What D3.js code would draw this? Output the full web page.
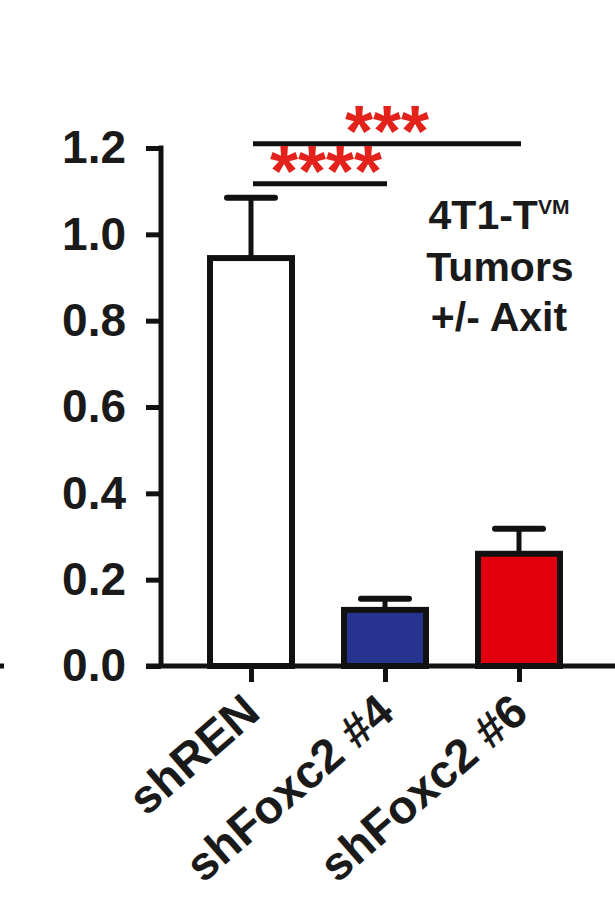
<!DOCTYPE html>
<html>
<head>
<meta charset="utf-8">
<script src="https://cdn.jsdelivr.net/npm/d3@7"></script>
<style>
  html, body { margin: 0; padding: 0; background: #fff; }
  svg text { font-family: "Liberation Sans", Arial, sans-serif; font-weight: bold; }
</style>
</head>
<body>
<div id="chart"></div>
<script>
// values
var categories = ["shREN", "shFoxc2 #4", "shFoxc2 #6"];
var means = [0.945, 0.13, 0.26];
var errors = [0.14, 0.026, 0.058];
var barColors = ["#ffffff", "#26348f", "#e2000f"];
var yTicks = [0, 0.2, 0.4, 0.6, 0.8, 1.0, 1.2];
var sigFrom = [0, 0];
var sigTo = [2, 1];
var sigLevel = [1.21, 1.117];
var sigLabel = ["***", "****"];
var noteLines = ["4T1-T", "Tumors", "+/- Axit"];

var width = 615,
    height = 899;

var svg = d3.select("#chart").append("svg")
    .attr("width", width)
    .attr("height", height);

var y = d3.scaleLinear()
    .domain([0, 1.2])
    .range([666, 148]);

var x = d3.scalePoint()
    .domain(categories)
    .range([251, 519]);

var barWidth = 82,
    capWidth = 48,
    axisX = 161;

var data = categories.map(function(c, i) {
  return {key: c, mean: means[i], err: errors[i], color: barColors[i]};
});

// y axis
var yAxis = d3.axisLeft(y)
  .tickValues(yTicks)
  .tickFormat(d3.format(".1f"))
  .tickSize(15)
  .tickSizeOuter(0)
  .tickPadding(20);

var gy = svg.append("g")
    .attr("transform", "translate(" + axisX + ",0)")
    .call(yAxis);

gy.select(".domain").remove();
gy.selectAll(".tick line").attr("stroke", "#111").attr("stroke-width", 5);
gy.selectAll(".tick text")
  .attr("fill", "#1a1a1a")
  .style("font-size", "46px");

gy.append("line")
  .attr("x1", 0).attr("x2", 0)
  .attr("y1", y(1.2) - 2.5).attr("y2", y(0))
  .attr("stroke", "#111")
  .attr("stroke-width", 5);

// bars
var bars = svg.selectAll("g.bar")
  .data(data)
  .enter().append("g")
  .attr("class", "bar");

bars.append("line")
  .attr("x1", function(d) { return x(d.key); })
  .attr("x2", function(d) { return x(d.key); })
  .attr("y1", function(d) { return y(d.mean); })
  .attr("y2", function(d) { return y(d.mean + d.err); })
  .attr("stroke", "#111")
  .attr("stroke-width", 5);

bars.append("line")
  .attr("x1", function(d) { return x(d.key) - capWidth / 2; })
  .attr("x2", function(d) { return x(d.key) + capWidth / 2; })
  .attr("y1", function(d) { return y(d.mean + d.err); })
  .attr("y2", function(d) { return y(d.mean + d.err); })
  .attr("stroke", "#111")
  .attr("stroke-width", 6)
  .attr("stroke-linecap", "round");

bars.append("rect")
  .attr("x", function(d) { return x(d.key) - barWidth / 2; })
  .attr("y", function(d) { return y(d.mean); })
  .attr("width", barWidth)
  .attr("height", function(d) { return y(0) - y(d.mean); })
  .attr("fill", function(d) { return d.color; })
  .attr("stroke", "#111")
  .attr("stroke-width", 6);

// x axis
var xAxis = d3.axisBottom(x)
  .tickSize(16)
  .tickSizeOuter(0)
  .tickFormat("");

var gx = svg.append("g")
    .attr("transform", "translate(0," + y(0) + ")")
    .call(xAxis);

gx.select(".domain").remove();
gx.selectAll(".tick line").attr("stroke", "#111").attr("stroke-width", 5);

gx.append("line")
  .attr("x1", axisX - 15).attr("x2", width)
  .attr("y1", 0).attr("y2", 0)
  .attr("stroke", "#111")
  .attr("stroke-width", 5);

// stray dash at the left edge (neighbouring panel)
gx.append("line")
  .attr("x1", 0).attr("x2", 4)
  .attr("y1", 0).attr("y2", 0)
  .attr("stroke", "#111")
  .attr("stroke-width", 5);

gx.selectAll(".tick")
  .append("text")
  .attr("transform", "translate(11,50) rotate(-41)")
  .attr("text-anchor", "end")
  .attr("fill", "#1a1a1a")
  .style("font-size", "47px")
  .text(function(d) { return d; });

// significance brackets
sigLabel.forEach(function(label, i) {
  var x1 = x(categories[sigFrom[i]]) + 2,
      x2 = x(categories[sigTo[i]]) + 2,
      yy = y(sigLevel[i]);

  svg.append("line")
    .attr("x1", x1).attr("x2", x2)
    .attr("y1", yy).attr("y2", yy)
    .attr("stroke", "#111")
    .attr("stroke-width", 5);

  svg.append("text")
    .attr("x", (x1 + x2) / 2 + (i ? 6 : 0))
    .attr("y", yy + 12)
    .attr("text-anchor", "middle")
    .attr("fill", "#e3231b")
    .style("font-size", "72px")
    .text(label);
});

// annotation
var note = svg.append("text")
  .attr("text-anchor", "middle")
  .attr("fill", "#1a1a1a")
  .style("font-size", "41px");

note.append("tspan")
  .attr("x", 499).attr("y", 229)
  .text(noteLines[0])
  .append("tspan")
  .attr("dy", -15)
  .style("font-size", "21px")
  .text("VM");

note.append("tspan")
  .attr("x", 500).attr("y", 281)
  .text(noteLines[1]);

note.append("tspan")
  .attr("x", 499).attr("y", 331)
  .text(noteLines[2]);
</script>
</body>
</html>
